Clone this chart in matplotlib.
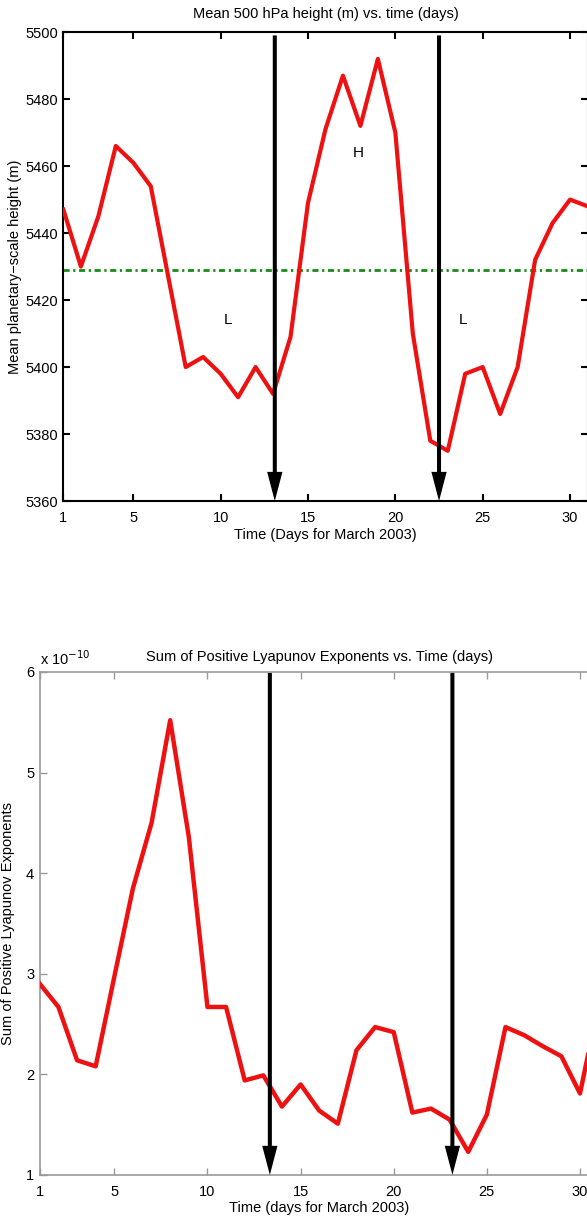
import matplotlib
matplotlib.use("Agg")
import matplotlib.pyplot as plt

plt.rcParams['font.family'] = ['Liberation Sans', 'DejaVu Sans']

# Tage im Maerz 2003
days = list(range(1, 32))

# Mittlere 500 hPa Hoehe (m)
height = [5447, 5430, 5445, 5466, 5461, 5454, 5427, 5400, 5403, 5398,
          5391, 5400, 5392, 5409, 5449, 5471, 5487, 5472, 5492, 5470,
          5410, 5378, 5375, 5398, 5400, 5386, 5400, 5432, 5443, 5450, 5448]
mean_height = 5429

# Summe der positiven Lyapunov-Exponenten (x 1e-10)
lyap = [2.90, 2.67, 2.14, 2.08, 2.97, 3.85, 4.50, 5.52, 4.36, 2.67,
        2.67, 1.94, 1.99, 1.68, 1.90, 1.64, 1.51, 2.24, 2.47, 2.42,
        1.62, 1.66, 1.55, 1.23, 1.60, 2.47, 2.39, 2.28, 2.18, 1.81, 2.70]

arrows_top = [13.1, 22.5]
arrows_bottom = [13.35, 23.15]
xticks = [1, 5, 10, 15, 20, 25, 30]

# Pfeil: Schaft + Spitze, Spitze genau auf der x-Achse
arrow_props = dict(width=2.9, headwidth=11, headlength=21, shrink=0,
                   facecolor='black', edgecolor='none')

fig = plt.figure(figsize=(5.87, 12.2), dpi=100)

# --- oberes Diagramm ---
ax1 = fig.add_axes([0.108, 0.5893, 0.8929, 0.3844])
ax1.plot(days, height, color='#ee1111', lw=3, zorder=3)
ax1.axhline(mean_height, color='#1a8a1a', lw=2, linestyle=(0, (2.2, 1.3, 0.8, 1.3)), zorder=2)
for xa in arrows_top:
    ax1.annotate('', xy=(xa, 5360), xytext=(xa, 5499),
                 arrowprops=arrow_props, zorder=4)
ax1.text(10.4, 5414, 'L', fontsize=11, ha='center', va='center')
ax1.text(17.9, 5464, 'H', fontsize=11, ha='center', va='center')
ax1.text(23.9, 5414, 'L', fontsize=11, ha='center', va='center')
ax1.set_xlim(1, 31)
ax1.set_ylim(5360, 5500)
ax1.set_xticks(xticks)
ax1.set_yticks(range(5360, 5501, 20))
ax1.tick_params(direction='in', length=5, width=1.5, top=True, right=True,
                labelsize=10.5, pad=4)
ax1.tick_params(axis='x', pad=7)
for s in ax1.spines.values():
    s.set_linewidth(1.5)
ax1.set_title('Mean 500 hPa height (m) vs. time (days)', fontsize=10.5, pad=10)
ax1.set_xlabel('Time (Days for March 2003)', fontsize=10.5, labelpad=2)
ax1.set_ylabel('Mean planetary\u2212scale height (m)', fontsize=10.5, labelpad=2)

# --- unteres Diagramm ---
ax2 = fig.add_axes([0.0678, 0.0369, 0.952, 0.4123])
ax2.plot(days, lyap, color='#ee1111', lw=3.2, zorder=3)
for xa in arrows_bottom:
    ax2.annotate('', xy=(xa, 1), xytext=(xa, 5.99),
                 arrowprops=arrow_props, zorder=4)
ax2.set_xlim(1, 31)
ax2.set_ylim(1, 6)
ax2.set_xticks(xticks)
ax2.set_yticks([1, 2, 3, 4, 5, 6])
ax2.tick_params(direction='in', length=5, width=1, top=True, right=True,
                labelsize=10.5, pad=4, color='#999999')
ax2.tick_params(axis='x', pad=7)
for s in ax2.spines.values():
    s.set_linewidth(1.2)
    s.set_color('#999999')
ax2.text(0.0, 1.008, 'x 10$^{-10}$', transform=ax2.transAxes, fontsize=10.5,
         ha='left', va='bottom')
ax2.set_title('Sum of Positive Lyapunov Exponents vs. Time (days)', fontsize=10.5, pad=8)
ax2.set_xlabel('Time (days for March 2003)', fontsize=10.5, labelpad=2)
ax2.set_ylabel('Sum of Positive Lyapunov Exponents', fontsize=10.5, labelpad=8)

fig.savefig('out.png', dpi=100)
